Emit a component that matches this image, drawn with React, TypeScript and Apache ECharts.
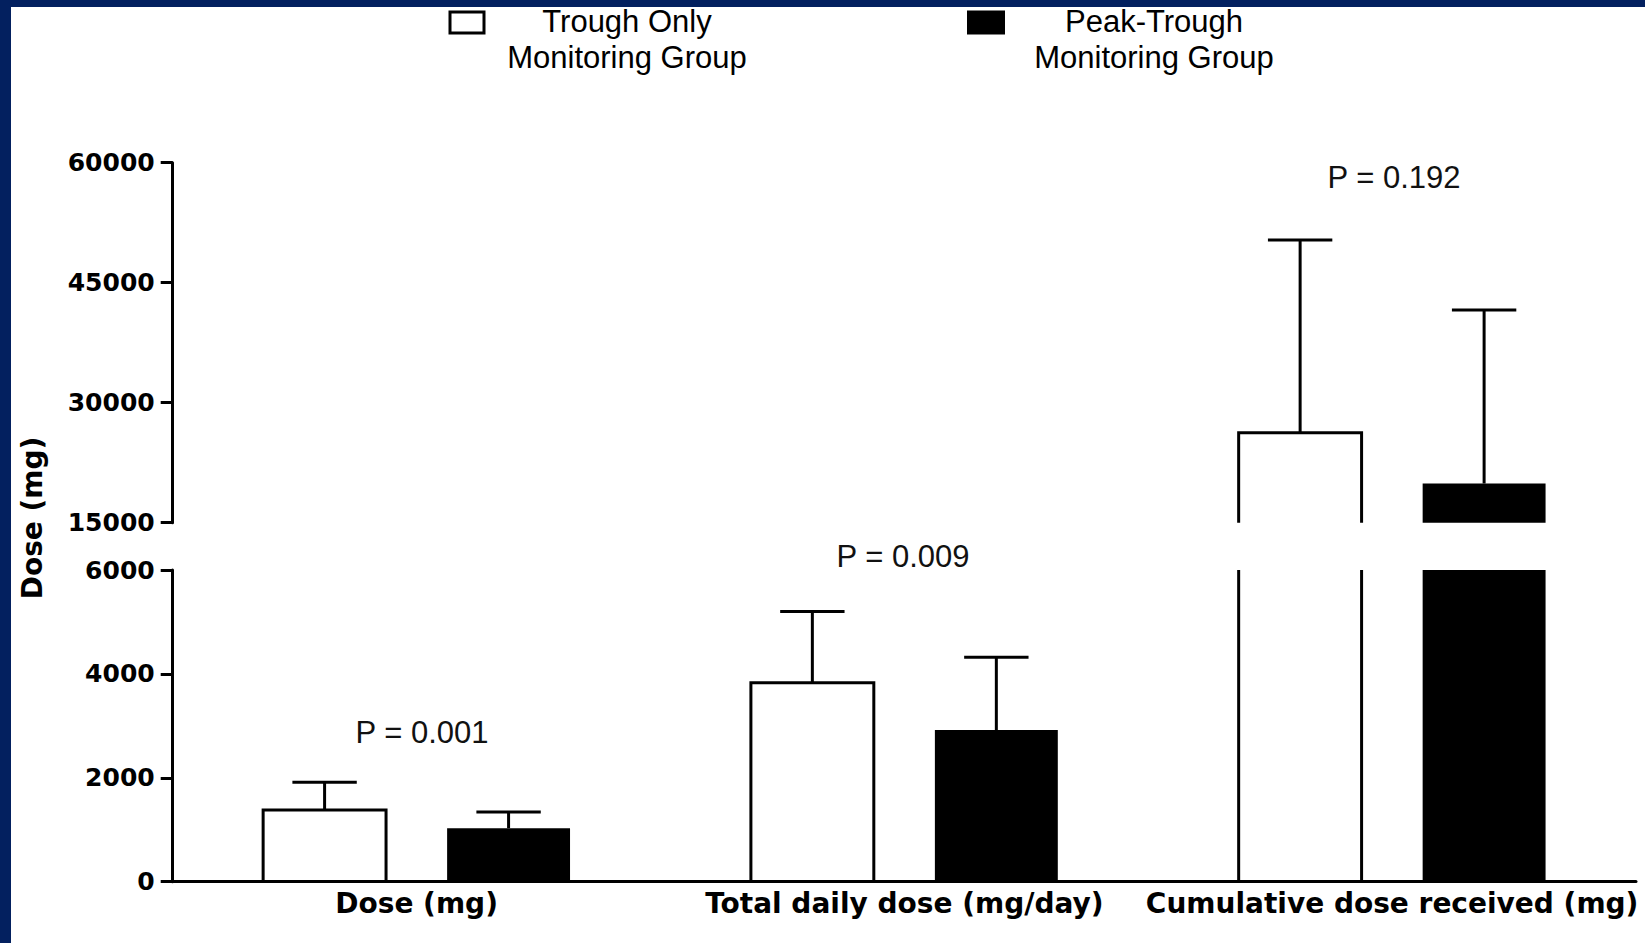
import React, { useEffect, useRef } from 'react';
import * as echarts from 'echarts';

// Categories along the x axis
const categories = ['Dose (mg)', 'Total daily dose (mg/day)', 'Cumulative dose received (mg)'];

// Mean and SD (upper whisker) for each monitoring group
const troughMean = [1380, 3830, 26250];
const troughSD = [535, 1370, 24100];
const peakMean = [1030, 2920, 19900];
const peakSD = [310, 1400, 21700];

// Group labels and significance annotations
const groupNames = ['Trough Only\nMonitoring Group', 'Peak-Trough\nMonitoring Group'];
const pLabels = ['P = 0.001', 'P = 0.009', 'P = 0.192'];

// Broken y axis: lower and upper segments
const lowerAxis = { min: 0, max: 6000, interval: 2000 };
const upperAxis = { min: 15000, max: 60000, interval: 15000 };

const NAVY = '#03205f';
const BOLD_FONT = 'DejaVu Sans';
const PLAIN_FONT = 'Liberation Sans, Arial, sans-serif';

// bar geometry as fractions of the category band
const BAR_WIDTH = 0.252;
const BAR_OFFSET = 0.1886;
const CAP_HALF = 0.066;

function makeRenderer(group: number, segment: 'lower' | 'upper') {
  const range = segment === 'lower' ? lowerAxis : upperAxis;
  return (params: any, api: any) => {
    const cat = api.value(0);
    const mean = api.value(1);
    const sd = api.value(2);
    if (mean <= range.min) return null;
    const band = api.size([1, 0])[0];
    const basePt = api.coord([cat, range.min]);
    const center = basePt[0] + (group === 0 ? -1 : 1) * band * BAR_OFFSET;
    const half = (band * BAR_WIDTH) / 2;
    const base = basePt[1];
    const cut = mean > range.max;
    const top = api.coord([cat, Math.min(mean, range.max)])[1];
    const left = center - half;
    const right = center + half;
    const lineStyle = { stroke: '#000', lineWidth: 3, fill: null };
    const children: any[] = [];

    if (group === 1) {
      children.push({
        type: 'rect',
        shape: { x: left, y: top, width: right - left, height: base - top },
        style: { fill: '#000' },
      });
    } else if (cut) {
      // bar continues past the axis break: only its sides are drawn
      children.push({ type: 'line', shape: { x1: left, y1: base, x2: left, y2: top }, style: lineStyle });
      children.push({ type: 'line', shape: { x1: right, y1: base, x2: right, y2: top }, style: lineStyle });
    } else {
      children.push({
        type: 'polyline',
        shape: { points: [[left, base], [left, top], [right, top], [right, base]] },
        style: lineStyle,
      });
    }

    if (!cut) {
      const upper = mean + sd;
      const yUp = api.coord([cat, Math.min(upper, range.max)])[1];
      const capHalf = band * CAP_HALF;
      children.push({ type: 'line', shape: { x1: center, y1: top, x2: center, y2: yUp }, style: lineStyle });
      if (upper <= range.max) {
        children.push({
          type: 'line',
          shape: { x1: center - capHalf, y1: yUp, x2: center + capHalf, y2: yUp },
          style: lineStyle,
        });
      }
    }
    return { type: 'group', children };
  };
}

const troughData = categories.map((_, i) => [i, troughMean[i], troughSD[i]]);
const peakData = categories.map((_, i) => [i, peakMean[i], peakSD[i]]);

const pPositions = [
  [422, 732],
  [903, 556],
  [1394, 177],
];

export default function App() {
  const ref = useRef<HTMLDivElement>(null);

  useEffect(() => {
    if (!ref.current) return;
    const chart = echarts.init(ref.current, undefined, { renderer: 'svg' });

    const axisLine = { show: true, lineStyle: { color: '#000', width: 3 } };
    const axisTick = { show: true, length: 12, lineStyle: { color: '#000', width: 3 } };
    const yLabel = {
      fontFamily: BOLD_FONT,
      fontWeight: 'bold' as const,
      fontSize: 25,
      color: '#000',
      margin: 18,
      formatter: (v: number) => String(v),
    };

    const legendText = (text: string, x: number) => ({
      type: 'text',
      x,
      y: 39,
      style: {
        text,
        fontFamily: PLAIN_FONT,
        fontSize: 31,
        lineHeight: 36,
        fill: '#000',
        align: 'center',
        verticalAlign: 'middle',
      },
    });

    const option: any = {
      animation: false,
      backgroundColor: '#fff',
      grid: [
        { left: 172.7, right: 9, top: 570, height: 311.7 },
        { left: 172.7, right: 9, top: 162.7, height: 360 },
      ],
      xAxis: [
        {
          type: 'category',
          gridIndex: 0,
          data: categories,
          axisLine,
          axisTick: { show: false },
          axisLabel: {
            interval: 0,
            fontFamily: BOLD_FONT,
            fontWeight: 'bold',
            fontSize: 28,
            color: '#000',
            margin: 8,
          },
        },
        {
          type: 'category',
          gridIndex: 1,
          data: categories,
          show: false,
        },
      ],
      yAxis: [
        {
          type: 'value',
          gridIndex: 0,
          ...lowerAxis,
          axisLine,
          axisTick,
          splitLine: { show: false },
          axisLabel: yLabel,
        },
        {
          type: 'value',
          gridIndex: 1,
          ...upperAxis,
          axisLine,
          axisTick,
          splitLine: { show: false },
          axisLabel: yLabel,
        },
      ],
      series: [
        { type: 'custom', name: groupNames[0], xAxisIndex: 0, yAxisIndex: 0, data: troughData, renderItem: makeRenderer(0, 'lower'), clip: false },
        { type: 'custom', name: groupNames[1], xAxisIndex: 0, yAxisIndex: 0, data: peakData, renderItem: makeRenderer(1, 'lower'), clip: false },
        { type: 'custom', name: groupNames[0], xAxisIndex: 1, yAxisIndex: 1, data: troughData, renderItem: makeRenderer(0, 'upper'), clip: false },
        { type: 'custom', name: groupNames[1], xAxisIndex: 1, yAxisIndex: 1, data: peakData, renderItem: makeRenderer(1, 'upper'), clip: false },
      ],
      graphic: [
        // frame
        { type: 'rect', shape: { x: 0, y: 0, width: 1645, height: 7 }, style: { fill: NAVY }, z: 10 },
        { type: 'rect', shape: { x: 0, y: 0, width: 11, height: 943 }, style: { fill: NAVY }, z: 10 },
        // legend
        { type: 'rect', shape: { x: 450, y: 12, width: 34, height: 21 }, style: { fill: '#fff', stroke: '#000', lineWidth: 3 } },
        { type: 'rect', shape: { x: 967, y: 10.5, width: 38, height: 24 }, style: { fill: '#000' } },
        legendText(groupNames[0], 627),
        legendText(groupNames[1], 1154),
        // y axis title
        {
          type: 'text',
          x: 32,
          y: 518,
          rotation: Math.PI / 2,
          style: {
            text: 'Dose (mg)',
            fontFamily: BOLD_FONT,
            fontWeight: 'bold',
            fontSize: 28,
            fill: '#000',
            align: 'center',
            verticalAlign: 'middle',
          },
        },
        // significance annotations
        ...pLabels.map((t, i) => ({
          type: 'text',
          x: pPositions[i][0],
          y: pPositions[i][1],
          style: {
            text: t,
            fontFamily: PLAIN_FONT,
            fontSize: 31,
            fill: '#111',
            align: 'center',
            verticalAlign: 'middle',
          },
        })),
      ],
    };

    chart.setOption(option);
    return () => chart.dispose();
  }, []);

  return (
    <div
      ref={ref}
      style={{ position: 'fixed', left: 0, top: 0, width: 1645, height: 943, background: '#fff' }}
    />
  );
}
